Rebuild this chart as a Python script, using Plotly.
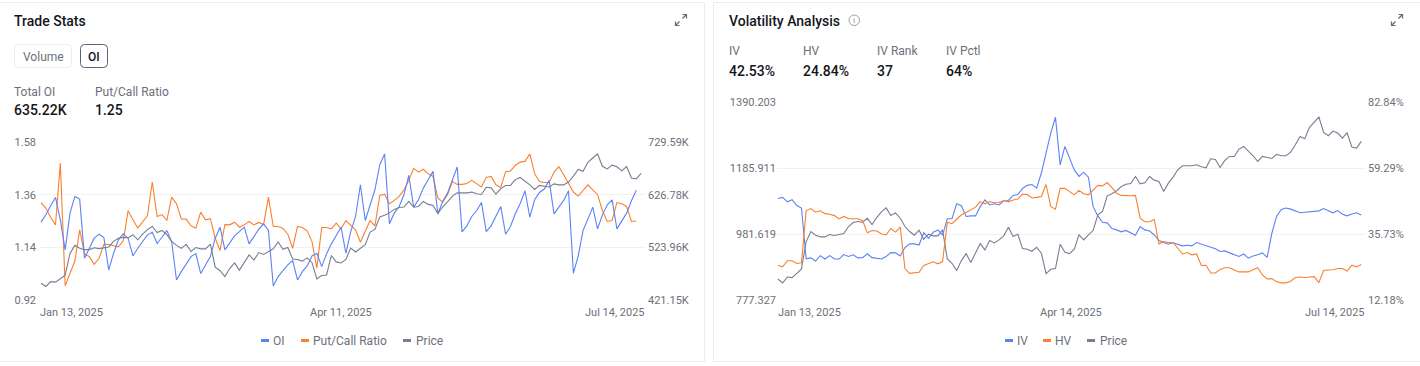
import pandas as pd
import plotly.graph_objects as go

HOLIDAYS = ["2025-01-20", "2025-02-17", "2025-04-18", "2025-05-26", "2025-06-19", "2025-07-04"]
dates = [d.strftime("%Y-%m-%d") for d in pd.bdate_range("2025-01-13", "2025-07-14") if d.strftime("%Y-%m-%d") not in HOLIDAYS]

oi_k = [573.1,587.4,605.0,621.3,577.7,519.0,590.7,623.3,618.1,502.7,522.2,541.8,549.6,543.1,479.8,512.4,538.5,550.3,541.8,507.2,
        522.2,535.3,548.3,553.5,531.4,543.7,556.8,535.3,460.3,476.6,490.9,505.9,511.8,472.7,489.6,505.9,541.8,563.3,519.0,533.3,
        546.4,554.8,563.3,530.7,545.0,559.4,569.8,556.8,448.5,466.8,478.5,489.6,498.1,460.3,476.6,487.7,507.2,512.4,486.4,511.1,
        530.7,546.4,563.3,512.4,554.8,584.2,646.1,576.3,607.0,636.3,685.2,706.1,569.8,590.7,603.7,626.6,664.4,602.4,616.8,639.6,
        655.9,672.2,589.4,613.5,629.8,655.9,680.7,554.2,565.9,584.2,595.3,611.6,554.8,565.9,584.2,603.7,549.6,564.6,589.4,609.0,
        634.4,582.9,616.8,631.1,637.7,654.6,589.4,602.4,615.5,634.4,473.3,507.2,556.8,579.0,602.4,560.0,587.4,607.0,616.8,560.0,
        574.4,590.7,614.8,635.22]
put_call = [1.327,1.304,1.266,1.233,1.492,0.979,1.032,1.083,1.213,1.113,1.101,1.069,1.094,1.153,1.152,1.147,1.142,1.167,1.293,1.255,
            1.221,1.246,1.272,1.413,1.269,1.277,1.252,1.350,1.322,1.259,1.258,1.230,1.220,1.287,1.255,1.260,1.178,1.127,1.235,1.234,
            1.245,1.224,1.234,1.248,1.234,1.244,1.235,1.350,1.227,1.227,1.219,1.195,1.136,1.227,1.223,1.209,1.164,1.053,1.223,1.223,
            1.217,1.241,1.217,1.252,1.234,1.213,1.161,1.209,1.252,1.230,1.357,1.362,1.322,1.336,1.353,1.380,1.420,1.470,1.454,1.466,
            1.447,1.436,1.346,1.329,1.360,1.415,1.403,1.403,1.407,1.420,1.404,1.392,1.432,1.436,1.401,1.390,1.456,1.459,1.482,1.496,
            1.499,1.530,1.447,1.415,1.411,1.411,1.454,1.477,1.443,1.408,1.371,1.354,1.378,1.401,1.380,1.360,1.294,1.248,1.252,1.327,
            1.322,1.311,1.248,1.25]
price = [842.4,830.0,848.6,846.6,860.0,873.4,958.2,989.2,977.8,972.7,972.7,979.9,976.8,979.9,983.0,1004.7,1017.1,1020.2,1018.1,1030.5,
         1010.9,1032.6,1050.2,1062.6,1038.8,1047.1,1030.5,1004.7,989.2,977.8,993.3,965.4,980.9,975.8,975.8,994.4,904.5,891.0,868.3,899.3,
         921.0,893.1,922.0,952.0,932.4,961.3,954.1,963.4,975.8,1002.6,973.7,980.9,936.5,934.4,928.2,940.6,922.0,859.0,872.4,874.5,
         949.9,925.1,921.0,934.4,978.9,963.4,978.9,992.3,1040.9,1051.2,1099.8,1106.0,1115.3,1128.7,1135.9,1138.0,1159.7,1137.0,1140.1,1159.7,
         1148.3,1144.2,1113.2,1139.0,1157.6,1180.4,1192.8,1192.8,1192.8,1195.9,1189.7,1186.6,1214.5,1212.4,1187.6,1209.3,1221.7,1221.7,1244.4,1252.7,
         1239.3,1223.8,1206.2,1221.7,1218.6,1215.5,1227.9,1223.8,1223.8,1235.1,1257.9,1283.7,1276.5,1311.6,1328.2,1343.7,1296.1,1285.8,1300.3,1294.1,
         1278.5,1295.1,1250.6,1247.5,1268.2]
iv = [48.4,48.8,47.2,48.0,45.9,45.0,26.9,27.2,26.1,28.0,26.8,28.0,26.8,26.8,28.4,27.7,28.3,27.2,27.3,28.7,
      27.3,27.1,26.8,27.7,29.1,29.0,27.9,30.9,32.2,32.2,31.8,36.2,34.2,36.4,37.2,35.3,41.2,41.2,46.5,45.8,
      42.0,42.2,42.2,45.5,47.9,46.1,46.5,46.1,47.6,47.7,49.5,49.8,52.0,53.1,53.4,52.1,57.5,64.6,71.8,77.4,
      60.4,67.0,62.8,58.6,56.3,57.8,56.0,45.5,42.2,39.9,39.7,37.7,37.2,36.5,37.0,36.2,35.3,38.4,37.2,36.8,
      35.4,33.4,32.7,32.1,32.6,32.0,31.5,31.7,31.5,32.7,32.1,31.5,31.1,30.5,29.5,29.7,29.0,28.3,27.7,28.6,
      27.1,27.9,28.3,29.0,27.4,36.0,42.0,44.5,45.0,44.6,44.0,43.3,43.5,43.6,43.9,44.0,44.8,43.9,43.3,44.1,
      42.8,42.2,42.9,43.3,42.53]
hv = [24.5,24.0,26.2,26.2,25.2,25.5,44.1,44.8,43.5,44.0,43.0,42.8,42.3,41.1,42.0,41.2,41.2,41.2,40.5,36.2,
      37.0,36.8,35.8,35.4,37.7,36.4,38.2,23.3,21.7,21.8,22.1,24.5,25.1,25.8,25.1,25.9,39.9,39.4,41.0,42.6,
      43.4,44.4,45.3,47.3,46.5,47.3,46.9,47.0,47.7,47.2,47.9,48.2,50.0,49.8,48.6,48.8,49.1,53.4,45.5,44.6,
      52.0,52.0,50.9,49.7,51.3,50.1,49.7,51.5,53.1,52.9,54.1,52.3,50.3,49.5,49.4,49.4,49.5,41.4,40.1,40.1,
      40.9,32.2,33.0,32.7,32.7,30.6,28.6,29.1,28.3,28.6,24.5,24.6,21.8,21.8,23.1,23.7,23.7,22.9,22.2,22.2,
      22.2,23.0,23.7,21.1,19.7,19.8,18.7,18.3,18.3,18.9,20.2,20.4,20.1,20.4,20.5,18.4,22.7,22.9,23.0,23.4,
      23.4,22.5,24.6,24.0,24.84]

pcr_ticks = [0.92, 1.14, 1.36, 1.58]
oi_ticks = [421.15, 523.96, 626.78, 729.59]
oi_ticktext = ["421.15K", "523.96K", "626.78K", "729.59K"]
price_ticks = [777.327, 981.619, 1185.911, 1390.203]
vol_ticks = [12.18, 35.73, 59.29, 82.84]

BLUE, ORANGE, GRAY = "#5c82f5", "#f9802f", "#767e90"
INK, MUTED, GRID, BORDER = "#14161c", "#6c6f78", "#f1f1f3", "#ececec"
FONT = "Roboto, sans-serif"
W, H = 1420, 366


def px(x):
    return x / W


def py(y):
    return 1 - y / H


def text(s, x, y, size=12, color=MUTED, weight=400, anchor="left"):
    return dict(text=s, x=px(x), y=py(y), xref="paper", yref="paper", xanchor=anchor, yanchor="middle",
                showarrow=False, align=anchor, borderpad=0, borderwidth=0,
                font=dict(family=FONT, size=size, color=color, weight=weight))


def round_rect(x0, y0, x1, y1, r, color, width=1):
    a, b, c, d = px(x0), py(y0), px(x1), py(y1)
    rx, ry = r / W, r / H
    path = (f"M{a + rx},{b} L{c - rx},{b} Q{c},{b} {c},{b - ry} L{c},{d + ry} Q{c},{d} {c - rx},{d} "
            f"L{a + rx},{d} Q{a},{d} {a},{d + ry} L{a},{b - ry} Q{a},{b} {a + rx},{b} Z")
    return dict(type="path", path=path, xref="paper", yref="paper", line=dict(color=color, width=width), layer="below")


def box(x0, y0, x1, y1, color=None, line=None):
    return dict(type="rect", xref="paper", yref="paper", x0=px(x0), x1=px(x1), y0=py(y0), y1=py(y1),
                fillcolor=color or "rgba(0,0,0,0)", line=dict(color=line or "rgba(0,0,0,0)", width=1 if line else 0),
                layer="below")


def segs(points, color="#666a70", width=1.2):
    path = " ".join(("M" if i == 0 else "L") + f"{px(x)},{py(y)}" for i, (x, y) in enumerate(points))
    return dict(type="path", path=path, xref="paper", yref="paper", line=dict(color=color, width=width))


def expand_icon(dx):
    return [
        segs([(682.5 + dx, 14.5), (686.5 + dx, 14.5), (686.5 + dx, 18.5)]),
        segs([(686.5 + dx, 14.5), (682.5 + dx, 18.5)]),
        segs([(675.5 + dx, 21.5), (675.5 + dx, 25.5), (679.5 + dx, 25.5)]),
        segs([(675.5 + dx, 25.5), (679.5 + dx, 21.5)]),
    ]


def legend(items):
    shapes, notes = [], []
    for label, color, sx, tx in items:
        shapes.append(box(sx, 339, sx + 8, 342, color=color))
        notes.append(text(label, tx, 340.5, size=12))
    return shapes, notes


fig = go.Figure()


def line(x, y, name, color, xaxis, yaxis):
    fig.add_trace(go.Scatter(x=x, y=y, name=name, mode="lines", line=dict(color=color, width=1.1),
                             xaxis=xaxis, yaxis=yaxis, showlegend=False, hoverinfo="skip"))


line(dates[:len(oi_k)], oi_k, "OI", BLUE, "x", "y2")
line(dates[:len(put_call)], put_call, "Put/Call Ratio", ORANGE, "x", "y")
line(dates, price, "Price", GRAY, "x", "y3")
line(dates, iv, "IV", BLUE, "x2", "y5")
line(dates, hv, "HV", ORANGE, "x2", "y5")
line(dates, price, "Price", GRAY, "x2", "y4")

tickfont = dict(family=FONT, size=11, color=MUTED)
left_dom = [1 - 300 / H, 1 - 142 / H]
right_dom = [1 - 300 / H, 1 - 102 / H]


def xax(dom, anchor):
    return dict(domain=[px(dom[0]), px(dom[1])], type="category", categoryorder="array", categoryarray=dates,
                range=[-0.2, 124.8], showgrid=False, showticklabels=False, ticks="", zeroline=False,
                showline=False, anchor=anchor, automargin=False)


def yax(dom, rng, ticks, labels, side="left", grid=False, overlay=None, anchor="x", visible=True, standoff=0):
    d = dict(domain=dom, range=rng, tickmode="array", tickvals=ticks, ticktext=labels, side=side, showgrid=grid,
             gridcolor=GRID, gridwidth=1, zeroline=False, showline=False, ticks="", tickfont=tickfont,
             anchor=anchor, visible=visible, automargin=False, ticklabelstandoff=standoff)
    if overlay:
        d["overlaying"] = overlay
    return d


price_labels = ["777.327", "981.619", "1185.911", "1390.203"]
vol_labels = ["12.18%", "35.73%", "59.29%", "82.84%"]
pcr_labels = ["0.92", "1.14", "1.36", "1.58"]

lg1s, lg1n = legend([("OI", BLUE, 261, 273), ("Put/Call Ratio", ORANGE, 301, 313), ("Price", GRAY, 403, 416)])
lg2s, lg2n = legend([("IV", BLUE, 1005, 1017), ("HV", ORANGE, 1043, 1055), ("Price", GRAY, 1087, 1100)])

notes = [
    text("Trade Stats", 14, 21, size=14, color=INK, weight=500),
    text("Volume", 43, 57, anchor="center"),
    text("OI", 94, 57, color=INK, weight=500, anchor="center"),
    text("Total OI", 14, 91.5),
    text("635.22K", 14, 110, size=14, color=INK, weight=500),
    text("Put/Call Ratio", 95, 91.5),
    text("1.25", 95, 110, size=14, color=INK, weight=500),
    text("Volatility Analysis", 729, 21, size=14, color=INK, weight=500),
    text("i", 854, 20.5, size=8, color="#8a8d94", anchor="center"),
    text("IV", 729, 51),
    text("42.53%", 729, 71, size=14, color=INK, weight=500),
    text("HV", 803, 51),
    text("24.84%", 803, 71, size=14, color=INK, weight=500),
    text("IV Rank", 877, 51),
    text("37", 877, 71, size=14, color=INK, weight=500),
    text("IV Pctl", 946, 51),
    text("64%", 946, 71, size=14, color=INK, weight=500),
] + lg1n + lg2n


def date_label(s, xa, idx, anchor, shift=0):
    return dict(text=s, x=idx, y=py(312.5), xref=xa, yref="paper", xanchor=anchor, yanchor="middle", xshift=shift,
                showarrow=False, font=tickfont)


notes += [
    date_label("Jan 13, 2025", "x", dates.index("2025-01-13"), "left", -3),
    date_label("Apr 11, 2025", "x", dates.index("2025-04-11"), "center", 0),
    date_label("Jul 14, 2025", "x", dates.index("2025-07-14"), "right", 6),
    date_label("Jan 13, 2025", "x2", dates.index("2025-01-13"), "left", -2),
    date_label("Apr 14, 2025", "x2", dates.index("2025-04-14"), "center", -3),
    date_label("Jul 14, 2025", "x2", dates.index("2025-07-14"), "right", 6),
]

shapes = [
    box(-3, 2.5, 704.5, 361.5, line=BORDER),
    box(713.5, 2.5, 1424, 361.5, line=BORDER),
    round_rect(14.5, 44.5, 71.5, 67.5, 4, "#ededed"),
    round_rect(80.5, 44.5, 107.5, 67.5, 4, "#5a6478"),
    dict(type="circle", xref="paper", yref="paper", x0=px(849), x1=px(859.5), y0=py(15), y1=py(25.5),
         line=dict(color="#9a9da3", width=1)),
] + expand_icon(0) + expand_icon(716) + lg1s + lg2s

fig.update_layout(
    width=W, height=H, autosize=False, margin=dict(l=0, r=0, t=0, b=0),
    paper_bgcolor="white", plot_bgcolor="white", showlegend=False, font=dict(family=FONT),
    xaxis=xax((40, 645), "y"),
    xaxis2=xax((777, 1365), "y4"),
    yaxis=yax(left_dom, [pcr_ticks[0], pcr_ticks[-1]], pcr_ticks, pcr_labels, grid=True, standoff=3),
    yaxis2=yax(left_dom, [oi_ticks[0], oi_ticks[-1]], oi_ticks, oi_ticktext, side="right", overlay="y", standoff=2),
    yaxis3=yax(left_dom, [price_ticks[0], price_ticks[-1]], price_ticks, price_labels, overlay="y", visible=False),
    yaxis4=yax(right_dom, [price_ticks[0], price_ticks[-1]], price_ticks, price_labels, grid=True, anchor="x2"),
    yaxis5=yax(right_dom, [vol_ticks[0], vol_ticks[-1]], vol_ticks, vol_labels, side="right", overlay="y4", anchor="x2", standoff=2),
    annotations=notes, shapes=shapes,
)

fig.write_html("out.html", config=dict(displayModeBar=False),
               post_script="document.body.style.margin='0';document.body.style.overflow='hidden';")
